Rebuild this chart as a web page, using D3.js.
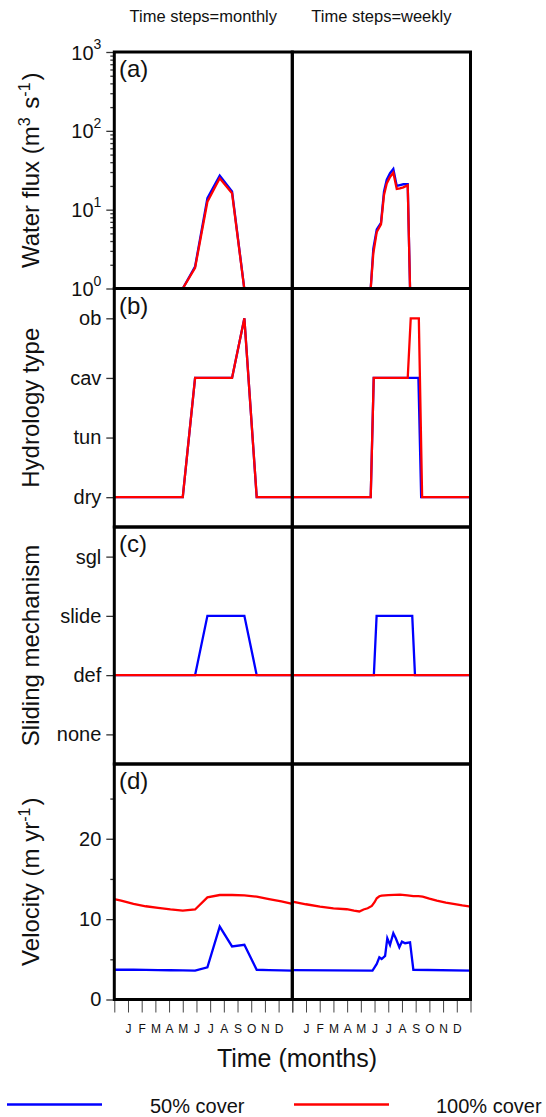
<!DOCTYPE html>
<html><head><meta charset="utf-8">
<script src="https://cdn.jsdelivr.net/npm/d3@7"></script>
<style>
body{margin:0;background:#fff}
svg{display:block;font-family:"Liberation Sans",Arial,Helvetica,sans-serif}
</style>
</head><body>
<svg id="chart" width="546" height="1117"></svg>
<script>
// ---------------- DATA ----------------
const months = ["J","F","M","A","M","J","J","A","S","O","N","D"];
const columnTitles = ["Time steps=monthly","Time steps=weekly"];
const panelLetters = ["(a)","(b)","(c)","(d)"];
const hydroTypes = ["dry","tun","cav","ob"];
const slideTypes = ["none","def","slide","sgl"];
const fluxTicks = [1,10,100,1000];
const fluxMinorTicks = [2,3,4,5,6,7,8,9,20,30,40,50,60,70,80,90,200,300,400,500,600,700,800,900];
const velTicks = [0,10,20];
const velMinorTicks = [5,15,25];
const seriesNames = ["50% cover","100% cover"];

// monthly time steps (position in months on the axis)
const monthlyX = [0,0.5,1.4,2.3,3.2,4.1,5.0,5.9,6.8,7.7,8.6,9.5,10.4,11.3,12.2,13.0];
const monthlyFlux50  = [null,null,null,null,null,null,1.0,1.9,14,27,17,0.98,null,null,null,null];
const monthlyFlux100 = [null,null,null,null,null,null,1.0,1.83,12.6,25,16.2,0.97,null,null,null,null];
const monthlyHydro50  = [0,0,0,0,0,0,0,2,2,2,2,3,0,0,0,0];
const monthlyHydro100 = [0,0,0,0,0,0,0,2,2,2,2,3,0,0,0,0];
const monthlySlide50  = [1,1,1,1,1,1,1,1,2,2,2,2,1,1,1,1];
const monthlySlide100 = [1,1,1,1,1,1,1,1,1,1,1,1,1,1,1,1];
const monthlyVel50  = [3.7,3.7,3.7,3.68,3.66,3.64,3.62,3.6,4.0,9.07,6.6,6.8,3.7,3.66,3.62,3.6];
const monthlyVel100 = [12.5,12.3,11.9,11.6,11.4,11.2,11.05,11.2,12.7,13.0,13.0,12.95,12.8,12.5,12.2,11.9];

// weekly time steps
const weeklyFluxX    = [5.72,5.91,6.16,6.47,6.69,6.89,7.13,7.37,7.62,7.85,8.1,8.42,8.59];
const weeklyFlux50   = [1.0,3.2,5.6,6.8,17,24,29,32.8,20,20.5,21,21,1.0];
const weeklyFlux100  = [1.0,2.8,5.2,6.5,15.4,21.5,26,29.4,18.3,18.6,19.2,20.4,1.0];
const weeklyHydroX50   = [0,5.72,5.94,9.2,9.4,13];
const weeklyHydro50    = [0,0,2,2,0,0];
const weeklyHydroX100  = [0,5.72,5.94,8.42,8.64,9.23,9.47,13];
const weeklyHydro100   = [0,0,2,2,3,3,0,0];
const weeklySlideX50   = [0,5.95,6.15,8.75,8.95,13];
const weeklySlide50    = [1,1,2,2,1,1];
const weeklySlideX100  = [0,13];
const weeklySlide100   = [1,1];
const weeklyVelX50  = [0,5.85,6.16,6.35,6.52,6.77,6.93,7.13,7.37,7.55,7.81,8.0,8.23,8.59,8.83,13];
const weeklyVel50   = [3.65,3.6,4.42,5.26,5.04,5.42,7.62,6.79,8.24,7.62,6.5,7.2,7.0,7.12,3.7,3.6];
const weeklyVelX100 = [0,1.0,2.02,3.0,3.97,4.5,4.89,5.2,5.5,5.8,6.0,6.16,6.35,6.52,7.0,7.86,8.4,8.83,9.2,9.51,10.0,10.54,11.2,11.75,12.4,13.0];
const weeklyVel100  = [12.18,11.85,11.56,11.35,11.23,11.05,10.95,11.2,11.35,11.64,12.1,12.6,12.85,12.93,12.98,13.05,12.95,12.85,12.85,12.8,12.55,12.3,12.05,11.9,11.7,11.56];

// ---------------- LAYOUT ----------------
const BLUE = "#0000ff", RED = "#ff0000";
const svg = d3.select("#chart");
const colRanges = [[114.3,292.3],[292.3,470.5]];
const rows = [[52,288.5],[288.5,527],[527,764],[764,999.5]];

const xScales = colRanges.map(r => d3.scaleLinear().domain([0,13]).range(r));
const yScales = [
  d3.scaleLog().domain([1,1000]).range([rows[0][1], rows[0][0]]),
  d3.scaleLinear().domain([-0.5,3.5]).range([rows[1][1], rows[1][0]]),
  d3.scaleLinear().domain([-0.5,3.5]).range([rows[2][1], rows[2][0]]),
  d3.scaleLinear().domain([0,29.3]).range([rows[3][1], rows[3][0]])
];

const zip = (xs, ys) => xs.map((x,i) => [x, ys[i]]);
const panels = [
  [ [[monthlyX,monthlyFlux50],[monthlyX,monthlyFlux100]], [[weeklyFluxX,weeklyFlux50],[weeklyFluxX,weeklyFlux100]] ],
  [ [[monthlyX,monthlyHydro50],[monthlyX,monthlyHydro100]], [[weeklyHydroX50,weeklyHydro50],[weeklyHydroX100,weeklyHydro100]] ],
  [ [[monthlyX,monthlySlide50],[monthlyX,monthlySlide100]], [[weeklySlideX50,weeklySlide50],[weeklySlideX100,weeklySlide100]] ],
  [ [[monthlyX,monthlyVel50],[monthlyX,monthlyVel100]], [[weeklyVelX50,weeklyVel50],[weeklyVelX100,weeklyVel100]] ]
];
const colors = [BLUE, RED];

const defs = svg.append("defs");

rows.forEach((row, ri) => {
  colRanges.forEach((cr, ci) => {
    const id = `clip-${ri}-${ci}`;
    defs.append("clipPath").attr("id", id).append("rect")
      .attr("x", cr[0]).attr("y", row[0]).attr("width", cr[1]-cr[0]).attr("height", row[1]-row[0]);
    const g = svg.append("g").attr("clip-path", `url(#${id})`);
    const xs = xScales[ci], ys = yScales[ri];
    const line = d3.line().defined(d => d[1] != null).x(d => xs(d[0])).y(d => ys(d[1]));
    panels[ri][ci].forEach((s, si) => {
      g.append("path").datum(zip(s[0], s[1]))
        .attr("d", line).attr("fill","none")
        .attr("stroke", colors[si]).attr("stroke-width", 2.3)
        .attr("stroke-linejoin","miter");
    });
  });
});

// ---------------- AXES ----------------
function styleAxis(g){
  g.select(".domain").remove();
  g.selectAll(".tick line").attr("stroke","#333").attr("stroke-width",1.3);
  g.selectAll(".tick text").attr("fill","#111").attr("font-family",null);
}

// (a) log axis
const axA = svg.append("g").attr("transform",`translate(${colRanges[0][0]},0)`)
  .call(d3.axisLeft(yScales[0]).tickValues(fluxTicks).tickSize(8).tickPadding(5).tickFormat(() => ""));
styleAxis(axA);
axA.selectAll(".tick text").each(function(d){
  const t = d3.select(this).attr("font-size",20).attr("dy","0.35em");
  t.append("tspan").text("10");
  t.append("tspan").attr("font-size",14).attr("dy","-0.75em").text(Math.round(Math.log10(d)));
});
const axAm = svg.append("g").attr("transform",`translate(${colRanges[0][0]},0)`)
  .call(d3.axisLeft(yScales[0]).tickValues(fluxMinorTicks).tickSize(4).tickFormat(() => ""));
styleAxis(axAm);

// (b), (c) categorical
[[1,hydroTypes],[2,slideTypes]].forEach(([ri, cats]) => {
  const ax = svg.append("g").attr("transform",`translate(${colRanges[0][0]},0)`)
    .call(d3.axisLeft(yScales[ri]).tickValues(d3.range(cats.length)).tickSize(8).tickPadding(5).tickFormat(i => cats[i]));
  styleAxis(ax);
  ax.selectAll(".tick text").attr("font-size",20);
});

// (d) velocity
const axD = svg.append("g").attr("transform",`translate(${colRanges[0][0]},0)`)
  .call(d3.axisLeft(yScales[3]).tickValues(velTicks).tickSize(8).tickPadding(5).tickFormat(d3.format("d")));
styleAxis(axD);
axD.selectAll(".tick text").attr("font-size",20);
const axDm = svg.append("g").attr("transform",`translate(${colRanges[0][0]},0)`)
  .call(d3.axisLeft(yScales[3]).tickValues(velMinorTicks).tickSize(4).tickFormat(() => ""));
styleAxis(axDm);

// bottom month axes
xScales.forEach(xs => {
  const ax = svg.append("g").attr("transform",`translate(0,${rows[3][1]})`)
    .call(d3.axisBottom(xs).tickValues(d3.range(0,14)).tickSize(13)
      .tickFormat(d => (d >= 1 && d <= 12) ? months[d-1] : ""));
  styleAxis(ax);
  ax.selectAll(".tick line").attr("stroke","#444").attr("stroke-width",1);
  ax.selectAll(".tick text").attr("font-size",12).attr("y",33.5).attr("dy",null);
});

// ---------------- FRAMES ----------------
rows.forEach(row => colRanges.forEach(cr => {
  svg.append("rect").attr("x",cr[0]).attr("y",row[0]).attr("width",cr[1]-cr[0]).attr("height",row[1]-row[0])
    .attr("fill","none").attr("stroke","#000").attr("stroke-width",3);
}));

// panel letters
rows.forEach((row, ri) => {
  svg.append("text").attr("x",119).attr("y",row[0]+25).attr("font-size",24).attr("fill","#111").text(panelLetters[ri]);
});

// column titles
columnTitles.forEach((t, ci) => {
  svg.append("text").attr("x",(colRanges[ci][0]+colRanges[ci][1])/2).attr("y",22)
    .attr("text-anchor","middle").attr("font-size",16.5).attr("fill","#111").text(t);
});

// y titles
function yTitle(ri, parts){
  const cy = (rows[ri][0]+rows[ri][1])/2;
  const t = svg.append("text").attr("transform",`translate(39,${cy}) rotate(-90)`)
    .attr("text-anchor","middle").attr("font-size",24).attr("fill","#111");
  parts.forEach(p => {
    if (typeof p === "string") t.append("tspan").text(p);
    else {
      t.append("tspan").attr("font-size",16).attr("dy",-9).text(p.sup);
      t.append("tspan").attr("dy",9).text("\u200A");
    }
  });
}
yTitle(0, ["Water flux (m", {sup:"3"}, " s", {sup:"-1"}, ")"]);
yTitle(1, ["Hydrology type"]);
yTitle(2, ["Sliding mechanism"]);
yTitle(3, ["Velocity (m yr", {sup:"-1"}, ")"]);

// x title
svg.append("text").attr("x",297).attr("y",1067).attr("text-anchor","middle")
  .attr("font-size",25).attr("fill","#111").text("Time (months)");

// legend
const legendX = [[7,102,150],[294,389,436]];
seriesNames.forEach((n, i) => {
  svg.append("line").attr("x1",legendX[i][0]).attr("x2",legendX[i][1]).attr("y1",1104.5).attr("y2",1104.5)
    .attr("stroke",colors[i]).attr("stroke-width",2.5);
  svg.append("text").attr("x",legendX[i][2]).attr("y",1112.5).attr("font-size",20).attr("fill","#111").text(n);
});
</script>
</body></html>
